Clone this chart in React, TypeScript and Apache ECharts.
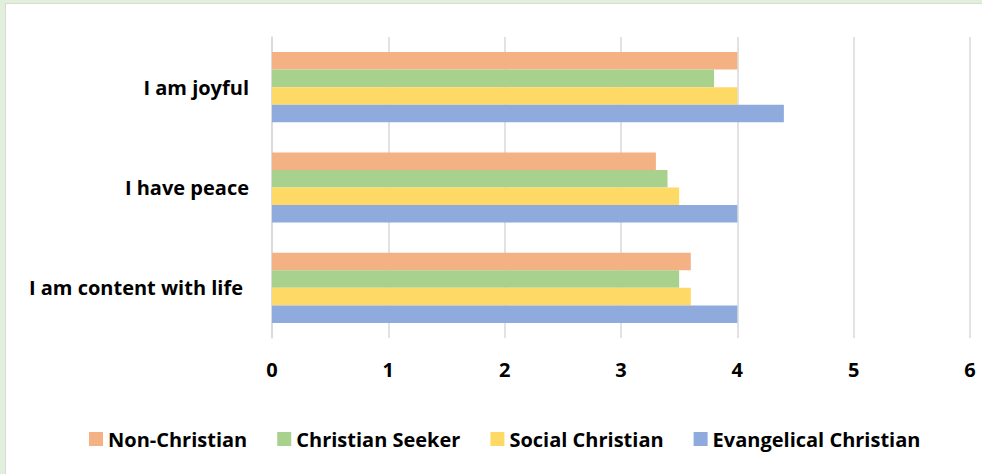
import React, { useEffect, useRef } from "react";
import * as echarts from "echarts";

const categories = ["I am content with life", "I have peace", "I am joyful"];
const seriesNames = ["Non-Christian", "Christian Seeker", "Social Christian", "Evangelical Christian"];
const nonChristian = [3.6, 3.3, 4.0];
const christianSeeker = [3.5, 3.4, 3.8];
const socialChristian = [3.6, 3.5, 4.0];
const evangelicalChristian = [4.0, 4.0, 4.4];
const xTicks = [0, 1, 2, 3, 4, 5, 6];
const colors = ["#f4b183", "#a9d18e", "#ffd966", "#8faadc"];

const FONT = "'Open Sans', Lato, sans-serif";
const FS = 20;

export default function App() {
  const ref = useRef<HTMLDivElement>(null);
  useEffect(() => {
    if (!ref.current) return;
    const chart = echarts.init(ref.current, null, { renderer: "svg" });
    const values = [nonChristian, christianSeeker, socialChristian, evangelicalChristian];
    const txt = { fontFamily: FONT, fontWeight: "bold", fontSize: FS, color: "#000" };
    chart.setOption({
      animation: false,
      textStyle: { fontFamily: FONT },
      grid: { left: 272, right: 12, top: 37, bottom: 136 },
      legend: {
        data: seriesNames,
        left: 89,
        top: 429,
        padding: 0,
        itemWidth: 14,
        itemHeight: 14,
        itemGap: 30,
        icon: "rect",
        textStyle: { ...txt },
      },
      xAxis: {
        type: "value",
        min: xTicks[0],
        max: xTicks[xTicks.length - 1],
        interval: 1,
        axisLine: { show: false },
        axisTick: { show: false },
        splitLine: { lineStyle: { color: "#d9d9d9", width: 1.5 } },
        axisLabel: { ...txt, margin: 21 },
      },
      yAxis: {
        type: "category",
        data: categories,
        axisLine: { lineStyle: { color: "#d9d9d9", width: 1.5 } },
        axisTick: { show: false },
        axisLabel: {
          ...txt,
          margin: 23,
          formatter: (v: string) => (v === categories[0] ? `{p|${v}}` : v),
          rich: { p: { ...txt, padding: [0, 6, 0, 0] } },
        },
      },
      series: seriesNames.map((name, i) => ({
        name,
        type: "bar",
        data: values[i],
        itemStyle: { color: colors[i] },
        barGap: "0%",
        barCategoryGap: "30%",
      })),
    });
    return () => chart.dispose();
  }, []);
  return (
    <div style={{ position: "fixed", left: 0, top: 0, width: 982, height: 474, background: "#e2efda", overflow: "hidden" }}>
      <div style={{ position: "absolute", left: 5, top: 3, width: 1000, height: 500, background: "#fff", border: "1px solid #d9d9d9" }} />
      <div ref={ref} style={{ position: "absolute", left: 0, top: 0, width: 982, height: 474 }} />
    </div>
  );
}
